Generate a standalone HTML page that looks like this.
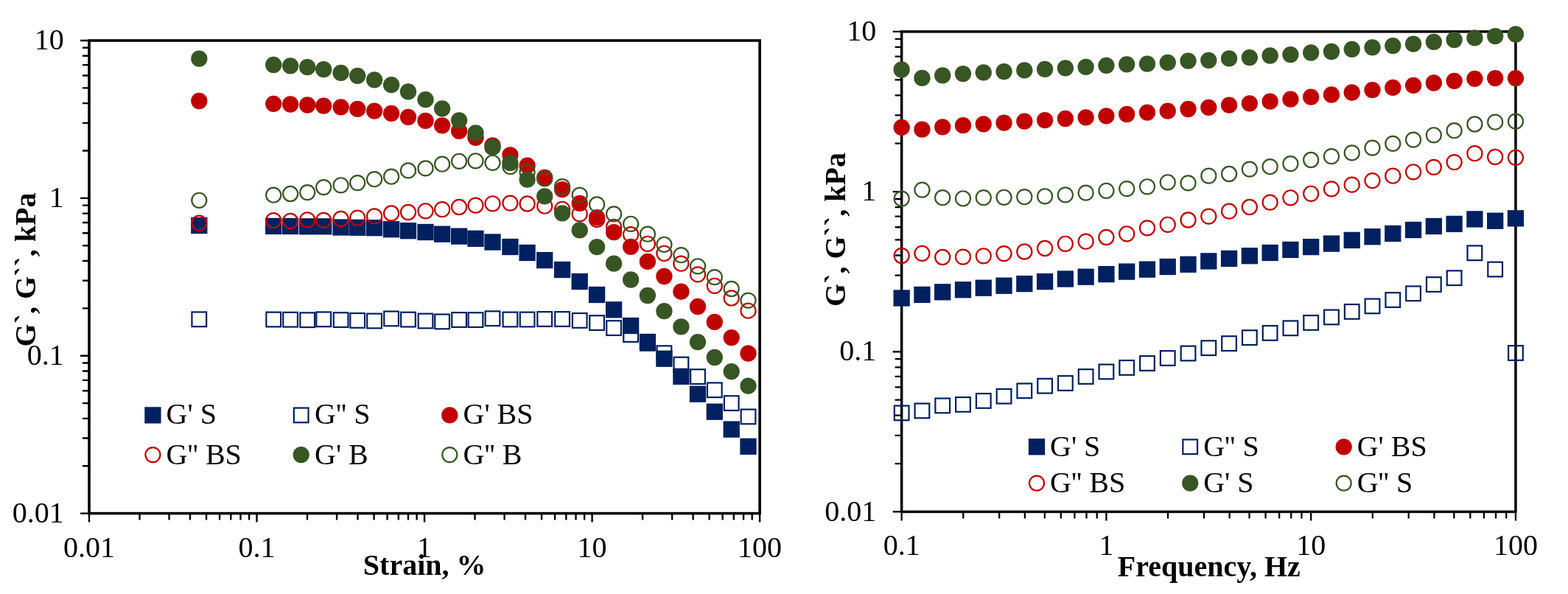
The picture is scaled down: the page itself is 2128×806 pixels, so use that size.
<!DOCTYPE html>
<html lang="en"><head><meta charset="utf-8"><title>Rheology: strain and frequency sweeps</title>
<style>html,body{margin:0;padding:0;background:#fff}body{width:2128px;height:806px;overflow:hidden}svg{display:block}text{font-family:"Liberation Serif",serif;font-size:40px;fill:#000}</style></head><body>
<svg width="2128" height="806" viewBox="0 0 2128 806">
<rect width="2128" height="806" fill="#fff"/>
<g id="strain-sweep">
<path d="M109 55H121M112 204.49H121M112 166.83H121M112 140.11H121M112 119.38H121M112 102.45H121M112 88.13H121M112 75.73H121M112 64.79H121M109 268.87H121M112 418.35H121M112 380.69H121M112 353.97H121M112 333.25H121M112 316.31H121M112 302H121M112 289.59H121M112 278.65H121M109 482.73H121M112 632.22H121M112 594.56H121M112 567.84H121M112 547.11H121M112 530.18H121M112 515.86H121M112 503.46H121M112 492.52H121M109 696.6H121M121 696.6V708.6M189.49 696.6V705.6M229.56 696.6V705.6M257.98 696.6V705.6M280.03 696.6V705.6M298.05 696.6V705.6M313.28 696.6V705.6M326.48 696.6V705.6M338.11 696.6V705.6M348.52 696.6V708.6M417.02 696.6V705.6M457.08 696.6V705.6M485.51 696.6V705.6M507.56 696.6V705.6M525.57 696.6V705.6M540.81 696.6V705.6M554 696.6V705.6M565.64 696.6V705.6M576.05 696.6V708.6M644.54 696.6V705.6M684.61 696.6V705.6M713.03 696.6V705.6M735.08 696.6V705.6M753.1 696.6V705.6M768.33 696.6V705.6M781.53 696.6V705.6M793.16 696.6V705.6M803.57 696.6V708.6M872.07 696.6V705.6M912.13 696.6V705.6M940.56 696.6V705.6M962.61 696.6V705.6M980.62 696.6V705.6M995.86 696.6V705.6M1009.05 696.6V705.6M1020.69 696.6V705.6M1031.1 696.6V708.6" fill="none" stroke="#000" stroke-width="2.4"/>
<rect x="121" y="55" width="910.1" height="641.6" fill="none" stroke="#000" stroke-width="3.6"/>
<text x="86.7" y="66.9" text-anchor="end">10</text>
<text x="86.7" y="280.77" text-anchor="end">1</text>
<text x="86.7" y="494.63" text-anchor="end">0.1</text>
<text x="86.7" y="708.5" text-anchor="end">0.01</text>
<text x="121" y="756" text-anchor="middle">0.01</text>
<text x="348.52" y="756" text-anchor="middle">0.1</text>
<text x="576.05" y="756" text-anchor="middle">1</text>
<text x="803.57" y="756" text-anchor="middle">10</text>
<text x="1031.1" y="756" text-anchor="middle">100</text>
<text x="576.2" y="780" text-anchor="middle" font-weight="bold">Strain, %</text>
<text x="47.7" y="366" text-anchor="middle" font-weight="bold" transform="rotate(-90 47.7 366)">G`, G``, kPa</text>
<g fill="#002060"><rect x="259.15" y="294.85" width="22.3" height="22.3"/><rect x="360.05" y="295.75" width="22.3" height="22.3"/><rect x="382.95" y="295.85" width="22.3" height="22.3"/><rect x="406.05" y="296.15" width="22.3" height="22.3"/><rect x="428.05" y="296.15" width="22.3" height="22.3"/><rect x="451.45" y="297.35" width="22.3" height="22.3"/><rect x="474.05" y="297.65" width="22.3" height="22.3"/><rect x="496.95" y="298.05" width="22.3" height="22.3"/><rect x="519.95" y="300.05" width="22.3" height="22.3"/><rect x="542.85" y="302.05" width="22.3" height="22.3"/><rect x="566.35" y="303.85" width="22.3" height="22.3"/><rect x="588.95" y="306.55" width="22.3" height="22.3"/><rect x="611.95" y="309.45" width="22.3" height="22.3"/><rect x="634.35" y="312.65" width="22.3" height="22.3"/><rect x="657.35" y="317.35" width="22.3" height="22.3"/><rect x="681.25" y="323.85" width="22.3" height="22.3"/><rect x="704.45" y="331.85" width="22.3" height="22.3"/><rect x="728.05" y="341.95" width="22.3" height="22.3"/><rect x="751.95" y="354.85" width="22.3" height="22.3"/><rect x="775.55" y="370.85" width="22.3" height="22.3"/><rect x="798.95" y="388.85" width="22.3" height="22.3"/><rect x="821.95" y="409.15" width="22.3" height="22.3"/><rect x="844.95" y="430.85" width="22.3" height="22.3"/><rect x="867.75" y="452.85" width="22.3" height="22.3"/><rect x="890.25" y="475.55" width="22.3" height="22.3"/><rect x="913.25" y="499.65" width="22.3" height="22.3"/><rect x="935.85" y="523.55" width="22.3" height="22.3"/><rect x="958.65" y="547.55" width="22.3" height="22.3"/><rect x="981.55" y="571.45" width="22.3" height="22.3"/><rect x="1004.35" y="594.65" width="22.3" height="22.3"/></g>
<g fill="none" stroke="#002060" stroke-width="2.2"><rect x="260.45" y="423.45" width="19.7" height="19.7"/><rect x="361.35" y="423.65" width="19.7" height="19.7"/><rect x="384.25" y="423.85" width="19.7" height="19.7"/><rect x="407.35" y="424.35" width="19.7" height="19.7"/><rect x="429.35" y="423.45" width="19.7" height="19.7"/><rect x="452.75" y="424.25" width="19.7" height="19.7"/><rect x="475.35" y="425.05" width="19.7" height="19.7"/><rect x="498.25" y="425.65" width="19.7" height="19.7"/><rect x="521.25" y="422.55" width="19.7" height="19.7"/><rect x="544.15" y="423.75" width="19.7" height="19.7"/><rect x="567.65" y="425.65" width="19.7" height="19.7"/><rect x="590.25" y="426.55" width="19.7" height="19.7"/><rect x="613.25" y="424.15" width="19.7" height="19.7"/><rect x="635.65" y="424.25" width="19.7" height="19.7"/><rect x="658.65" y="422.35" width="19.7" height="19.7"/><rect x="682.55" y="423.65" width="19.7" height="19.7"/><rect x="705.75" y="423.65" width="19.7" height="19.7"/><rect x="729.35" y="423.15" width="19.7" height="19.7"/><rect x="753.25" y="423.15" width="19.7" height="19.7"/><rect x="776.85" y="425.05" width="19.7" height="19.7"/><rect x="800.25" y="428.25" width="19.7" height="19.7"/><rect x="823.25" y="435.25" width="19.7" height="19.7"/><rect x="846.25" y="444.15" width="19.7" height="19.7"/><rect x="869.05" y="455.95" width="19.7" height="19.7"/><rect x="891.55" y="469.35" width="19.7" height="19.7"/><rect x="914.55" y="484.75" width="19.7" height="19.7"/><rect x="937.15" y="501.25" width="19.7" height="19.7"/><rect x="959.95" y="519.45" width="19.7" height="19.7"/><rect x="982.85" y="537.25" width="19.7" height="19.7"/><rect x="1005.65" y="555.55" width="19.7" height="19.7"/></g>
<g fill="#C00000"><circle cx="270.3" cy="137" r="11.15"/><circle cx="371.2" cy="140.8" r="11.15"/><circle cx="394.1" cy="141.5" r="11.15"/><circle cx="417.2" cy="142.5" r="11.15"/><circle cx="439.2" cy="143.6" r="11.15"/><circle cx="462.6" cy="145.3" r="11.15"/><circle cx="485.2" cy="147.9" r="11.15"/><circle cx="508.1" cy="150.6" r="11.15"/><circle cx="531.1" cy="153.8" r="11.15"/><circle cx="554" cy="158.8" r="11.15"/><circle cx="577.5" cy="163.9" r="11.15"/><circle cx="600.1" cy="170.3" r="11.15"/><circle cx="623.1" cy="177.8" r="11.15"/><circle cx="645.5" cy="186.8" r="11.15"/><circle cx="668.5" cy="197.5" r="11.15"/><circle cx="692.4" cy="210.3" r="11.15"/><circle cx="715.6" cy="224.7" r="11.15"/><circle cx="739.2" cy="240.9" r="11.15"/><circle cx="763.1" cy="257.1" r="11.15"/><circle cx="786.7" cy="275.8" r="11.15"/><circle cx="810.1" cy="295.1" r="11.15"/><circle cx="833.1" cy="315.2" r="11.15"/><circle cx="856.1" cy="334.8" r="11.15"/><circle cx="878.9" cy="354.9" r="11.15"/><circle cx="901.4" cy="375" r="11.15"/><circle cx="924.4" cy="395.7" r="11.15"/><circle cx="947" cy="416" r="11.15"/><circle cx="969.8" cy="436.9" r="11.15"/><circle cx="992.7" cy="458.1" r="11.15"/><circle cx="1015.5" cy="479.5" r="11.15"/></g>
<g fill="none" stroke="#C00000" stroke-width="2.2"><circle cx="270.3" cy="302.6" r="10.05"/><circle cx="371.2" cy="299.2" r="10.05"/><circle cx="394.1" cy="300" r="10.05"/><circle cx="417.2" cy="298.3" r="10.05"/><circle cx="439.2" cy="298.9" r="10.05"/><circle cx="462.6" cy="297" r="10.05"/><circle cx="485.2" cy="295.7" r="10.05"/><circle cx="508.1" cy="293.4" r="10.05"/><circle cx="531.1" cy="289.5" r="10.05"/><circle cx="554" cy="288" r="10.05"/><circle cx="577.5" cy="286.3" r="10.05"/><circle cx="600.1" cy="284.2" r="10.05"/><circle cx="623.1" cy="281" r="10.05"/><circle cx="645.5" cy="278.6" r="10.05"/><circle cx="668.5" cy="276.3" r="10.05"/><circle cx="692.4" cy="275.6" r="10.05"/><circle cx="715.6" cy="276.5" r="10.05"/><circle cx="739.2" cy="279.7" r="10.05"/><circle cx="763.1" cy="283.8" r="10.05"/><circle cx="786.7" cy="290.4" r="10.05"/><circle cx="810.1" cy="297.9" r="10.05"/><circle cx="833.1" cy="307.9" r="10.05"/><circle cx="856.1" cy="318.2" r="10.05"/><circle cx="878.9" cy="330.8" r="10.05"/><circle cx="901.4" cy="343.8" r="10.05"/><circle cx="924.4" cy="357.7" r="10.05"/><circle cx="947" cy="372.4" r="10.05"/><circle cx="969.8" cy="387.8" r="10.05"/><circle cx="992.7" cy="404.5" r="10.05"/><circle cx="1015.5" cy="421.7" r="10.05"/></g>
<g fill="#375623"><circle cx="270.3" cy="79.7" r="11.15"/><circle cx="371.2" cy="88" r="11.15"/><circle cx="394.1" cy="89.3" r="11.15"/><circle cx="417.2" cy="91.2" r="11.15"/><circle cx="439.2" cy="94.2" r="11.15"/><circle cx="462.6" cy="98.9" r="11.15"/><circle cx="485.2" cy="102.8" r="11.15"/><circle cx="508.1" cy="108.3" r="11.15"/><circle cx="531.1" cy="115.2" r="11.15"/><circle cx="554" cy="124.4" r="11.15"/><circle cx="577.5" cy="135.2" r="11.15"/><circle cx="600.1" cy="147.4" r="11.15"/><circle cx="623.1" cy="163.3" r="11.15"/><circle cx="645.5" cy="180.4" r="11.15"/><circle cx="668.5" cy="199.9" r="11.15"/><circle cx="692.4" cy="221.2" r="11.15"/><circle cx="715.6" cy="243.7" r="11.15"/><circle cx="739.2" cy="266.4" r="11.15"/><circle cx="763.1" cy="289.3" r="11.15"/><circle cx="786.7" cy="312.4" r="11.15"/><circle cx="810.1" cy="335.2" r="11.15"/><circle cx="833.1" cy="357.7" r="11.15"/><circle cx="856.1" cy="379.5" r="11.15"/><circle cx="878.9" cy="401" r="11.15"/><circle cx="901.4" cy="422.2" r="11.15"/><circle cx="924.4" cy="443.3" r="11.15"/><circle cx="947" cy="464.1" r="11.15"/><circle cx="969.8" cy="485" r="11.15"/><circle cx="992.7" cy="504.2" r="11.15"/><circle cx="1015.5" cy="523.6" r="11.15"/></g>
<g fill="none" stroke="#375623" stroke-width="2.2"><circle cx="270.3" cy="271.8" r="10.05"/><circle cx="371.2" cy="264.7" r="10.05"/><circle cx="394.1" cy="263" r="10.05"/><circle cx="417.2" cy="261.1" r="10.05"/><circle cx="439.2" cy="254.1" r="10.05"/><circle cx="462.6" cy="251.3" r="10.05"/><circle cx="485.2" cy="248.1" r="10.05"/><circle cx="508.1" cy="243.2" r="10.05"/><circle cx="531.1" cy="239.7" r="10.05"/><circle cx="554" cy="231.4" r="10.05"/><circle cx="577.5" cy="228.4" r="10.05"/><circle cx="600.1" cy="222.7" r="10.05"/><circle cx="623.1" cy="218.8" r="10.05"/><circle cx="645.5" cy="218.3" r="10.05"/><circle cx="668.5" cy="220.8" r="10.05"/><circle cx="692.4" cy="226.1" r="10.05"/><circle cx="715.6" cy="233.6" r="10.05"/><circle cx="739.2" cy="242.4" r="10.05"/><circle cx="763.1" cy="253.1" r="10.05"/><circle cx="786.7" cy="264.6" r="10.05"/><circle cx="810.1" cy="277.4" r="10.05"/><circle cx="833.1" cy="290.4" r="10.05"/><circle cx="856.1" cy="303.8" r="10.05"/><circle cx="878.9" cy="317.7" r="10.05"/><circle cx="901.4" cy="331.8" r="10.05"/><circle cx="924.4" cy="346.2" r="10.05"/><circle cx="947" cy="361.3" r="10.05"/><circle cx="969.8" cy="376.1" r="10.05"/><circle cx="992.7" cy="392" r="10.05"/><circle cx="1015.5" cy="407.6" r="10.05"/></g>
<g fill="#002060"><rect x="196.25" y="552.25" width="22.3" height="22.3"/></g>
<text x="225.6" y="575.4">G' S</text>
<g fill="none" stroke="#002060" stroke-width="2.2"><rect x="398.85" y="553.55" width="19.7" height="19.7"/></g>
<text x="427" y="575.4">G'' S</text>
<g fill="#C00000"><circle cx="610.3" cy="563.4" r="11.15"/></g>
<text x="628.5" y="575.4">G' BS</text>
<g fill="none" stroke="#C00000" stroke-width="2.2"><circle cx="207.4" cy="617.1" r="10.05"/></g>
<text x="225.6" y="629.5">G'' BS</text>
<g fill="#375623"><circle cx="408.7" cy="617.1" r="11.15"/></g>
<text x="427" y="629.5">G' B</text>
<g fill="none" stroke="#375623" stroke-width="2.2"><circle cx="610.3" cy="617.1" r="10.05"/></g>
<text x="628.5" y="629.5">G'' B</text>
</g>
<g id="frequency-sweep">
<path d="M1211.65 42.9H1223.65M1214.65 194.69H1223.65M1214.65 156.45H1223.65M1214.65 129.32H1223.65M1214.65 108.27H1223.65M1214.65 91.08H1223.65M1214.65 76.54H1223.65M1214.65 63.95H1223.65M1214.65 52.84H1223.65M1211.65 260.07H1223.65M1214.65 411.86H1223.65M1214.65 373.62H1223.65M1214.65 346.49H1223.65M1214.65 325.44H1223.65M1214.65 308.24H1223.65M1214.65 293.71H1223.65M1214.65 281.11H1223.65M1214.65 270H1223.65M1211.65 477.23H1223.65M1214.65 629.03H1223.65M1214.65 590.79H1223.65M1214.65 563.65H1223.65M1214.65 542.61H1223.65M1214.65 525.41H1223.65M1214.65 510.87H1223.65M1214.65 498.28H1223.65M1214.65 487.17H1223.65M1211.65 694.4H1223.65M1223.65 694.4V706.4M1307.27 694.4V703.4M1356.18 694.4V703.4M1390.88 694.4V703.4M1417.8 694.4V703.4M1439.79 694.4V703.4M1458.39 694.4V703.4M1474.5 694.4V703.4M1488.71 694.4V703.4M1501.42 694.4V706.4M1585.03 694.4V703.4M1633.95 694.4V703.4M1668.65 694.4V703.4M1695.57 694.4V703.4M1717.56 694.4V703.4M1736.16 694.4V703.4M1752.26 694.4V703.4M1766.47 694.4V703.4M1779.18 694.4V706.4M1862.8 694.4V703.4M1911.71 694.4V703.4M1946.42 694.4V703.4M1973.33 694.4V703.4M1995.33 694.4V703.4M2013.92 694.4V703.4M2030.03 694.4V703.4M2044.24 694.4V703.4M2056.95 694.4V706.4" fill="none" stroke="#000" stroke-width="2.3"/>
<rect x="1223.65" y="42.9" width="833.3" height="651.5" fill="none" stroke="#000" stroke-width="3.5"/>
<text x="1189.3" y="55" text-anchor="end">10</text>
<text x="1189.3" y="272.17" text-anchor="end">1</text>
<text x="1189.3" y="489.33" text-anchor="end">0.1</text>
<text x="1189.3" y="706.5" text-anchor="end">0.01</text>
<text x="1223.65" y="753.2" text-anchor="middle">0.1</text>
<text x="1501.42" y="753.2" text-anchor="middle">1</text>
<text x="1779.18" y="753.2" text-anchor="middle">10</text>
<text x="2056.95" y="753.2" text-anchor="middle">100</text>
<text x="1640.8" y="782" text-anchor="middle" font-weight="bold">Frequency, Hz</text>
<text x="1147" y="311.5" text-anchor="middle" font-weight="bold" transform="rotate(-90 1147 311.5)">G`, G``, kPa</text>
<g fill="#002060"><rect x="1212.5" y="393.35" width="22.3" height="22.3"/><rect x="1240.28" y="388.75" width="22.3" height="22.3"/><rect x="1268.05" y="385.15" width="22.3" height="22.3"/><rect x="1295.83" y="382.05" width="22.3" height="22.3"/><rect x="1323.61" y="379.55" width="22.3" height="22.3"/><rect x="1351.38" y="376.55" width="22.3" height="22.3"/><rect x="1379.16" y="373.95" width="22.3" height="22.3"/><rect x="1406.94" y="370.95" width="22.3" height="22.3"/><rect x="1434.72" y="367.35" width="22.3" height="22.3"/><rect x="1462.49" y="364.55" width="22.3" height="22.3"/><rect x="1490.27" y="360.95" width="22.3" height="22.3"/><rect x="1518.05" y="357.45" width="22.3" height="22.3"/><rect x="1545.82" y="354.45" width="22.3" height="22.3"/><rect x="1573.6" y="350.85" width="22.3" height="22.3"/><rect x="1601.38" y="347.65" width="22.3" height="22.3"/><rect x="1629.15" y="343.25" width="22.3" height="22.3"/><rect x="1656.93" y="339.75" width="22.3" height="22.3"/><rect x="1684.71" y="336.05" width="22.3" height="22.3"/><rect x="1712.49" y="331.85" width="22.3" height="22.3"/><rect x="1740.26" y="327.75" width="22.3" height="22.3"/><rect x="1768.04" y="323.95" width="22.3" height="22.3"/><rect x="1795.82" y="319.45" width="22.3" height="22.3"/><rect x="1823.59" y="314.75" width="22.3" height="22.3"/><rect x="1851.37" y="310.05" width="22.3" height="22.3"/><rect x="1879.15" y="305.75" width="22.3" height="22.3"/><rect x="1906.93" y="300.85" width="22.3" height="22.3"/><rect x="1934.7" y="295.85" width="22.3" height="22.3"/><rect x="1962.48" y="292.75" width="22.3" height="22.3"/><rect x="1990.26" y="286.25" width="22.3" height="22.3"/><rect x="2018.03" y="288.55" width="22.3" height="22.3"/><rect x="2045.81" y="285.15" width="22.3" height="22.3"/></g>
<g fill="none" stroke="#002060" stroke-width="2.2"><rect x="1213.8" y="550.55" width="19.7" height="19.7"/><rect x="1241.58" y="547.55" width="19.7" height="19.7"/><rect x="1269.35" y="540.55" width="19.7" height="19.7"/><rect x="1297.13" y="539.05" width="19.7" height="19.7"/><rect x="1324.91" y="534.05" width="19.7" height="19.7"/><rect x="1352.69" y="527.85" width="19.7" height="19.7"/><rect x="1380.46" y="520.45" width="19.7" height="19.7"/><rect x="1408.24" y="513.85" width="19.7" height="19.7"/><rect x="1436.02" y="510.15" width="19.7" height="19.7"/><rect x="1463.79" y="501.15" width="19.7" height="19.7"/><rect x="1491.57" y="494.55" width="19.7" height="19.7"/><rect x="1519.35" y="489.05" width="19.7" height="19.7"/><rect x="1547.12" y="483.15" width="19.7" height="19.7"/><rect x="1574.9" y="476.15" width="19.7" height="19.7"/><rect x="1602.68" y="469.65" width="19.7" height="19.7"/><rect x="1630.46" y="462.35" width="19.7" height="19.7"/><rect x="1658.23" y="456.25" width="19.7" height="19.7"/><rect x="1686.01" y="448.25" width="19.7" height="19.7"/><rect x="1713.79" y="442.05" width="19.7" height="19.7"/><rect x="1741.56" y="435.45" width="19.7" height="19.7"/><rect x="1769.34" y="428.05" width="19.7" height="19.7"/><rect x="1797.12" y="420.55" width="19.7" height="19.7"/><rect x="1824.89" y="413.05" width="19.7" height="19.7"/><rect x="1852.67" y="405.55" width="19.7" height="19.7"/><rect x="1880.45" y="397.15" width="19.7" height="19.7"/><rect x="1908.23" y="388.45" width="19.7" height="19.7"/><rect x="1936" y="376.15" width="19.7" height="19.7"/><rect x="1963.78" y="367.35" width="19.7" height="19.7"/><rect x="1991.56" y="333.45" width="19.7" height="19.7"/><rect x="2019.33" y="355.65" width="19.7" height="19.7"/><rect x="2047.11" y="469.15" width="19.7" height="19.7"/></g>
<g fill="#C00000"><circle cx="1223.65" cy="172.9" r="11.15"/><circle cx="1251.43" cy="175.7" r="11.15"/><circle cx="1279.2" cy="172.3" r="11.15"/><circle cx="1306.98" cy="170.2" r="11.15"/><circle cx="1334.76" cy="168.3" r="11.15"/><circle cx="1362.54" cy="166.7" r="11.15"/><circle cx="1390.31" cy="164.6" r="11.15"/><circle cx="1418.09" cy="163.1" r="11.15"/><circle cx="1445.87" cy="161" r="11.15"/><circle cx="1473.64" cy="159.3" r="11.15"/><circle cx="1501.42" cy="157.3" r="11.15"/><circle cx="1529.2" cy="155" r="11.15"/><circle cx="1556.97" cy="152.6" r="11.15"/><circle cx="1584.75" cy="150.7" r="11.15"/><circle cx="1612.53" cy="148" r="11.15"/><circle cx="1640.31" cy="145.8" r="11.15"/><circle cx="1668.08" cy="142.7" r="11.15"/><circle cx="1695.86" cy="140.3" r="11.15"/><circle cx="1723.64" cy="137.7" r="11.15"/><circle cx="1751.41" cy="134.7" r="11.15"/><circle cx="1779.19" cy="131.7" r="11.15"/><circle cx="1806.97" cy="128.5" r="11.15"/><circle cx="1834.74" cy="125.5" r="11.15"/><circle cx="1862.52" cy="122.1" r="11.15"/><circle cx="1890.3" cy="118.9" r="11.15"/><circle cx="1918.08" cy="115.9" r="11.15"/><circle cx="1945.85" cy="112.5" r="11.15"/><circle cx="1973.63" cy="109.8" r="11.15"/><circle cx="2001.41" cy="106.8" r="11.15"/><circle cx="2029.18" cy="106.1" r="11.15"/><circle cx="2056.96" cy="106.1" r="11.15"/></g>
<g fill="none" stroke="#C00000" stroke-width="2.2"><circle cx="1223.65" cy="347" r="10.05"/><circle cx="1251.43" cy="343.8" r="10.05"/><circle cx="1279.2" cy="349" r="10.05"/><circle cx="1306.98" cy="348.6" r="10.05"/><circle cx="1334.76" cy="347.3" r="10.05"/><circle cx="1362.54" cy="344.1" r="10.05"/><circle cx="1390.31" cy="341.5" r="10.05"/><circle cx="1418.09" cy="337" r="10.05"/><circle cx="1445.87" cy="330.8" r="10.05"/><circle cx="1473.64" cy="327.7" r="10.05"/><circle cx="1501.42" cy="322" r="10.05"/><circle cx="1529.2" cy="317.3" r="10.05"/><circle cx="1556.97" cy="309.4" r="10.05"/><circle cx="1584.75" cy="304.8" r="10.05"/><circle cx="1612.53" cy="298.5" r="10.05"/><circle cx="1640.31" cy="293.6" r="10.05"/><circle cx="1668.08" cy="286.6" r="10.05"/><circle cx="1695.86" cy="281" r="10.05"/><circle cx="1723.64" cy="274.6" r="10.05"/><circle cx="1751.41" cy="268.3" r="10.05"/><circle cx="1779.19" cy="262.8" r="10.05"/><circle cx="1806.97" cy="256.4" r="10.05"/><circle cx="1834.74" cy="250.7" r="10.05"/><circle cx="1862.52" cy="245.1" r="10.05"/><circle cx="1890.3" cy="238.7" r="10.05"/><circle cx="1918.08" cy="233.3" r="10.05"/><circle cx="1945.85" cy="226.9" r="10.05"/><circle cx="1973.63" cy="220.1" r="10.05"/><circle cx="2001.41" cy="208.2" r="10.05"/><circle cx="2029.18" cy="213" r="10.05"/><circle cx="2056.96" cy="213.8" r="10.05"/></g>
<g fill="#375623"><circle cx="1223.65" cy="94.5" r="11.15"/><circle cx="1251.43" cy="105.9" r="11.15"/><circle cx="1279.2" cy="102.4" r="11.15"/><circle cx="1306.98" cy="100.1" r="11.15"/><circle cx="1334.76" cy="98.4" r="11.15"/><circle cx="1362.54" cy="97.1" r="11.15"/><circle cx="1390.31" cy="95.4" r="11.15"/><circle cx="1418.09" cy="93.9" r="11.15"/><circle cx="1445.87" cy="92.4" r="11.15"/><circle cx="1473.64" cy="90.9" r="11.15"/><circle cx="1501.42" cy="88.8" r="11.15"/><circle cx="1529.2" cy="87.3" r="11.15"/><circle cx="1556.97" cy="86.6" r="11.15"/><circle cx="1584.75" cy="84.9" r="11.15"/><circle cx="1612.53" cy="82.6" r="11.15"/><circle cx="1640.31" cy="81.8" r="11.15"/><circle cx="1668.08" cy="79.4" r="11.15"/><circle cx="1695.86" cy="78.1" r="11.15"/><circle cx="1723.64" cy="75.5" r="11.15"/><circle cx="1751.41" cy="74.1" r="11.15"/><circle cx="1779.19" cy="71.5" r="11.15"/><circle cx="1806.97" cy="70" r="11.15"/><circle cx="1834.74" cy="66.8" r="11.15"/><circle cx="1862.52" cy="64.4" r="11.15"/><circle cx="1890.3" cy="62.1" r="11.15"/><circle cx="1918.08" cy="59.7" r="11.15"/><circle cx="1945.85" cy="56.9" r="11.15"/><circle cx="1973.63" cy="54" r="11.15"/><circle cx="2001.41" cy="51.4" r="11.15"/><circle cx="2029.18" cy="49.1" r="11.15"/><circle cx="2056.96" cy="46.5" r="11.15"/></g>
<g fill="none" stroke="#375623" stroke-width="2.2"><circle cx="1223.65" cy="269.7" r="10.05"/><circle cx="1251.43" cy="257.6" r="10.05"/><circle cx="1279.2" cy="268.2" r="10.05"/><circle cx="1306.98" cy="269.3" r="10.05"/><circle cx="1334.76" cy="268.2" r="10.05"/><circle cx="1362.54" cy="267.8" r="10.05"/><circle cx="1390.31" cy="267.2" r="10.05"/><circle cx="1418.09" cy="266.3" r="10.05"/><circle cx="1445.87" cy="264.4" r="10.05"/><circle cx="1473.64" cy="261.6" r="10.05"/><circle cx="1501.42" cy="258.8" r="10.05"/><circle cx="1529.2" cy="256.1" r="10.05"/><circle cx="1556.97" cy="253.3" r="10.05"/><circle cx="1584.75" cy="247.3" r="10.05"/><circle cx="1612.53" cy="248.4" r="10.05"/><circle cx="1640.31" cy="238.6" r="10.05"/><circle cx="1668.08" cy="236" r="10.05"/><circle cx="1695.86" cy="229.6" r="10.05"/><circle cx="1723.64" cy="226.2" r="10.05"/><circle cx="1751.41" cy="222.1" r="10.05"/><circle cx="1779.19" cy="217" r="10.05"/><circle cx="1806.97" cy="212.2" r="10.05"/><circle cx="1834.74" cy="207.4" r="10.05"/><circle cx="1862.52" cy="200.6" r="10.05"/><circle cx="1890.3" cy="194.9" r="10.05"/><circle cx="1918.08" cy="189.6" r="10.05"/><circle cx="1945.85" cy="183.3" r="10.05"/><circle cx="1973.63" cy="177.2" r="10.05"/><circle cx="2001.41" cy="168.5" r="10.05"/><circle cx="2029.18" cy="165.7" r="10.05"/><circle cx="2056.96" cy="164.7" r="10.05"/></g>
<g fill="#002060"><rect x="1395.85" y="595.15" width="22.3" height="22.3"/></g>
<text x="1425" y="618.8">G' S</text>
<g fill="none" stroke="#002060" stroke-width="2.2"><rect x="1605.35" y="596.45" width="19.7" height="19.7"/></g>
<text x="1633.2" y="618.8">G'' S</text>
<g fill="#C00000"><circle cx="1823.7" cy="606.3" r="11.15"/></g>
<text x="1841.7" y="618.8">G' BS</text>
<g fill="none" stroke="#C00000" stroke-width="2.2"><circle cx="1407" cy="655.6" r="10.05"/></g>
<text x="1425" y="668.3">G'' BS</text>
<g fill="#375623"><circle cx="1615.2" cy="655.6" r="11.15"/></g>
<text x="1633.2" y="668.3">G' S</text>
<g fill="none" stroke="#375623" stroke-width="2.2"><circle cx="1823.7" cy="655.6" r="10.05"/></g>
<text x="1841.7" y="668.3">G'' S</text>
</g>
</svg></body></html>
